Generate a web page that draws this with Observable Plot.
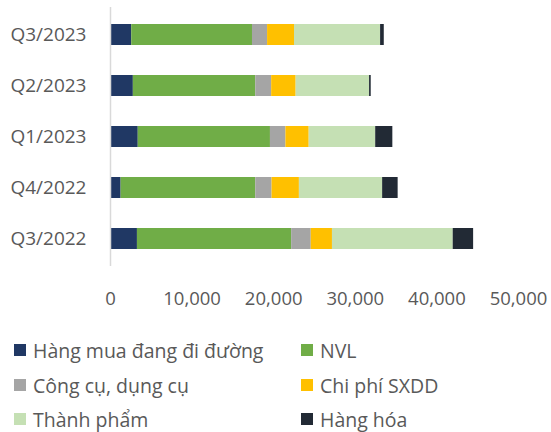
<!DOCTYPE html>
<html>
<head>
<meta charset="utf-8">
<script src="https://cdn.jsdelivr.net/npm/d3@7"></script>
<script src="https://cdn.jsdelivr.net/npm/@observablehq/plot@0.6"></script>
<style>
  html, body { margin: 0; padding: 0; background: #fff; }
  body { width: 551px; height: 432px; position: relative; overflow: hidden; font-family: "Open Sans", sans-serif; }
  #chart { position: absolute; left: 0; top: 0; }
  .item { position: absolute; display: flex; align-items: center; height: 26px; font-size: 19.5px; color: #595959; white-space: nowrap; }
  .sw { width: 12px; height: 12px; margin-right: 7px; flex: none; }
</style>
</head>
<body>
<div id="chart"></div>
<div id="legend"></div>
<script>
const quarters = ["Q3/2022", "Q4/2022", "Q1/2023", "Q2/2023", "Q3/2023"];
const seriesNames = ["Hàng mua đang đi đường", "NVL", "Công cụ, dụng cụ", "Chi phí SXDD", "Thành phẩm", "Hàng hóa"];
const seriesColors = ["#203864", "#70AD47", "#A5A5A5", "#FFC000", "#C5E0B4", "#222A35"];
const hangMuaDangDiDuong = [3300, 1300, 3400, 2800, 2600];
const nvl = [18900, 16500, 16200, 15000, 14800];
const congCuDungCu = [2400, 2000, 1900, 1950, 1850];
const chiPhiSXDD = [2600, 3350, 2850, 3000, 3300];
const thanhPham = [14800, 10200, 8150, 9000, 10550];
const hangHoa = [2500, 1900, 2100, 200, 450];
const xTicks = [0, 10000, 20000, 30000, 40000, 50000];

const seriesValues = [hangMuaDangDiDuong, nvl, congCuDungCu, chiPhiSXDD, thanhPham, hangHoa];
const data = [];
seriesNames.forEach((s, si) => {
  quarters.forEach((q, qi) => data.push({quarter: q, series: s, value: seriesValues[si][qi]}));
});

const fmt = d3.format(",");
const chart = Plot.plot({
  width: 551,
  height: 320,
  marginLeft: 110,
  marginRight: 33,
  marginTop: 7,
  marginBottom: 54,
  style: {fontFamily: "'Open Sans', sans-serif", fontSize: "18px", color: "#595959", background: "#fff"},
  x: {domain: [0, 50000], ticks: xTicks, tickFormat: fmt},
  y: {domain: quarters.slice().reverse(), paddingInner: 0.59, paddingOuter: 0.295},
  color: {domain: seriesNames, range: seriesColors},
  marks: [
    Plot.barX(data, Plot.stackX({y: "quarter", x: "value", fill: "series", order: seriesNames})),
    Plot.ruleX([0], {stroke: "#d9d9d9", strokeWidth: 1.5}),
    Plot.axisX({ticks: xTicks, tickFormat: fmt, tickSize: 0, tickPadding: 25, label: null, fontSize: 18.5}),
    Plot.axisY({tickSize: 0, tickPadding: 24, label: null, fontSize: 19})
  ]
});
document.getElementById("chart").appendChild(chart);

const legend = document.getElementById("legend");
const rowCenters = [350, 385, 419];
seriesNames.forEach((s, i) => {
  const col = i % 2, row = Math.floor(i / 2);
  const item = document.createElement("div");
  item.className = "item";
  item.style.left = (col === 0 ? 14 : 301) + "px";
  item.style.top = (rowCenters[row] - 13) + "px";
  const sw = document.createElement("span");
  sw.className = "sw";
  sw.style.background = seriesColors[i];
  const t = document.createElement("span");
  t.textContent = s;
  item.appendChild(sw);
  item.appendChild(t);
  legend.appendChild(item);
});
</script>
</body>
</html>
